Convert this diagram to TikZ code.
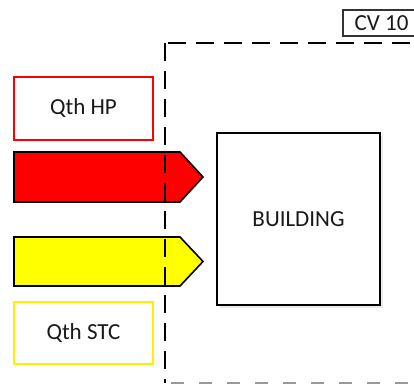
\documentclass[tikz,border=0pt]{standalone}
\usepackage{fontspec}
\setmainfont{Carlito}
\begin{document}
\begin{tikzpicture}[x=1pt,y=-1pt,
  lbl/.style={font=\fontsize{23}{27}\selectfont, text=black!90, inner sep=0pt},
  hpbox/.style={draw=red, line width=1.6pt, minimum width=139pt, minimum height=63pt, lbl},
  stcbox/.style={draw={rgb,255:red,255;green,240;blue,0}, line width=1.6pt, minimum width=139pt, minimum height=62pt, lbl},
  arrowshape/.style={draw=black, line width=1.6pt, line join=miter},
  bound/.style={draw=black, line width=2pt, dash pattern=on 18pt off 10pt},
  boundlow/.style={draw=black!40, line width=1.6pt, dash pattern=on 13pt off 15pt}
]
\useasboundingbox (0,0) rectangle (414,385);
\fill[white] (0,0) rectangle (414,385);
% CV 10 label
\node[lbl, draw=black!80, line width=1.1pt, minimum width=77pt, minimum height=26pt] (cv) at (381.5,23) {CV 10};
% input boxes
\node[hpbox] (hp) at (83.5,108.5) {Qth HP};
\node[stcbox] (stc) at (83.5,333) {Qth STC};
% arrows
\path[arrowshape, fill=red] (14,152) -- (180,152) -- (203,177) -- (180,202) -- (14,202) -- cycle;
\path[arrowshape, fill={rgb,255:red,255;green,255;blue,0}] (14,237) -- (180,237) -- (203,261.5) -- (180,286) -- (14,286) -- cycle;
% building
\fill[black!8] (219.5,135.5) rectangle (382.5,307.5);
\node[lbl, draw=black, line width=2pt, fill=white, minimum width=163pt, minimum height=172pt] (bld) at (298.5,219) {BUILDING};
% control volume boundary
\coordinate (cvbl) at (165,383);
\coordinate (cvtl) at (165,43);
\coordinate (cvtr) at (416,43);
\coordinate (cvbr) at (416,383);
\coordinate (cvtls) at (168,43);
\draw[boundlow, dash phase=-6pt] (cvbl) -- (cvbr);
\draw[bound] (cvtl) -- (cvbl);
\draw[bound] (cvtls) -- (cvtr);
\end{tikzpicture}
\end{document}
